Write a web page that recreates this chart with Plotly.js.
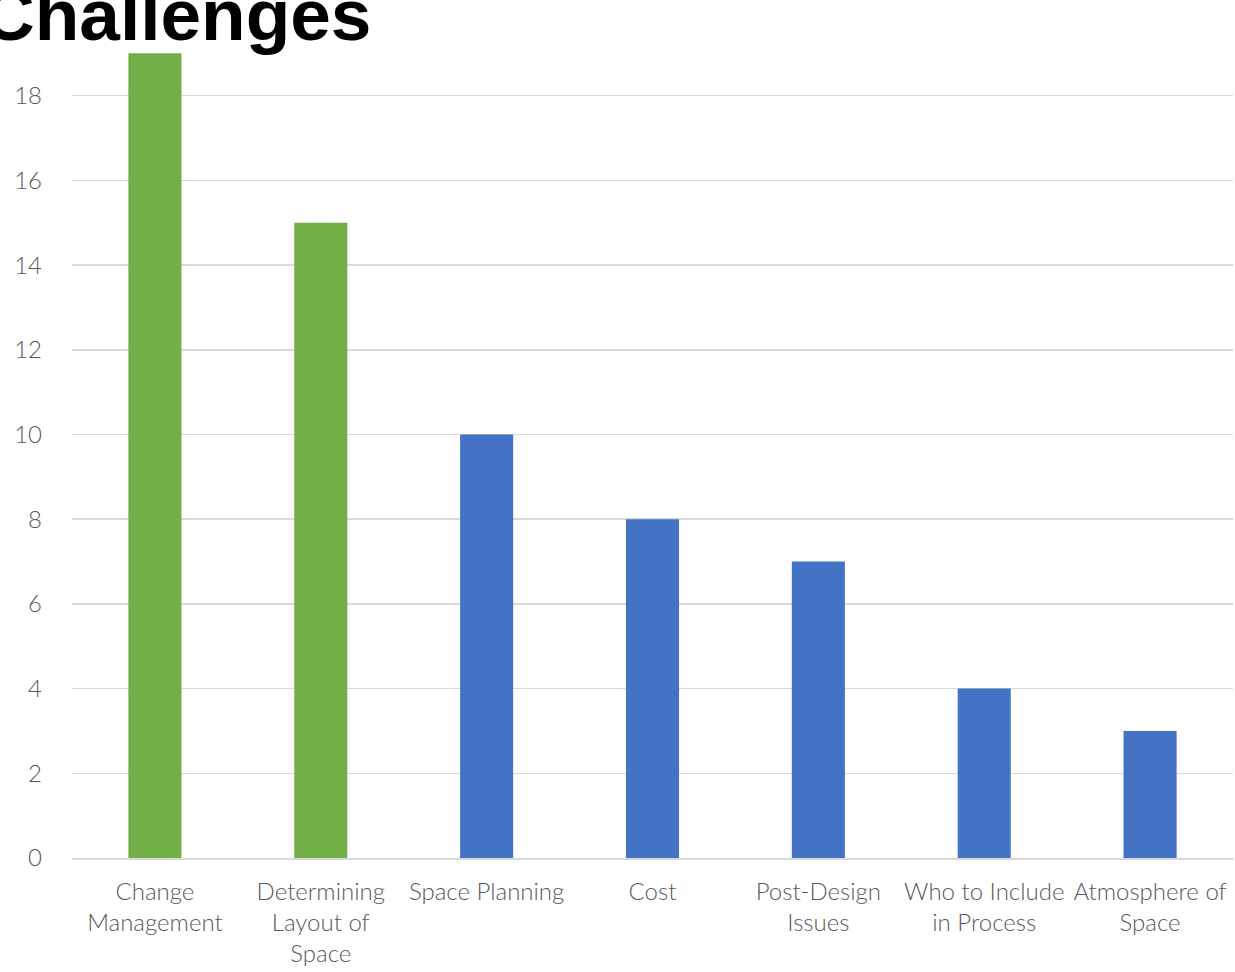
<!DOCTYPE html>
<html>
<head>
<meta charset="utf-8">
<script src="https://cdn.plot.ly/plotly-3.0.1.min.js"></script>
<style>
  html, body { margin: 0; padding: 0; background: #ffffff; overflow: hidden; }
  #chart { width: 1235px; height: 972px; }
</style>
</head>
<body>
<div id="chart"></div>
<script>
// Survey tally of reported challenges
const categories = [
  "Change<br>Management",
  "Determining<br>Layout of<br>Space",
  "Space Planning",
  "Cost",
  "Post-Design<br>Issues",
  "Who to Include<br>in Process",
  "Atmosphere of<br>Space"
];
const counts = [19, 15, 10, 8, 7, 4, 3];
const barColors = ["#72AF46", "#72AF46", "#4472C4", "#4472C4", "#4472C4", "#4472C4", "#4472C4"];
const yTicks = [0, 2, 4, 6, 8, 10, 12, 14, 16, 18, 20];
const chartTitle = "Challenges";

const labelFont = { family: "Lato, 'Open Sans', sans-serif", weight: 300, color: "#595959" };

const trace = {
  type: "bar",
  x: categories,
  y: counts,
  marker: { color: barColors, line: { width: 0 } },
  hoverinfo: "x+y"
};

const layout = {
  width: 1235,
  height: 972,
  margin: { l: 72, r: 2, t: 11, b: 114 },
  paper_bgcolor: "#ffffff",
  plot_bgcolor: "#ffffff",
  showlegend: false,
  bargap: 0.68,
  xaxis: {
    type: "category",
    showgrid: false,
    showline: true,
    linecolor: "#d9d9d9",
    linewidth: 2,
    ticks: "",
    ticklabelstandoff: 11,
    tickfont: Object.assign({ size: 24 }, labelFont),
    tickangle: 0
  },
  yaxis: {
    range: [0, 20],
    tickvals: yTicks,
    ticktext: yTicks.map(String),
    showgrid: true,
    gridcolor: "#d9d9d9",
    gridwidth: 1.5,
    zeroline: false,
    showline: false,
    ticks: "",
    ticklabelstandoff: 29,
    tickfont: Object.assign({ size: 24 }, labelFont)
  },
  annotations: [{
    text: chartTitle,
    xref: "paper",
    yref: "paper",
    x: -92 / 1161,
    y: 1 - 3 / 847,
    xanchor: "left",
    yanchor: "middle",
    showarrow: false,
    font: { family: "'Liberation Sans', Arial, sans-serif", size: 73, weight: 700, color: "#000000" }
  }]
};

Plotly.newPlot("chart", [trace], layout, { displayModeBar: false, staticPlot: true });
</script>
</body>
</html>
